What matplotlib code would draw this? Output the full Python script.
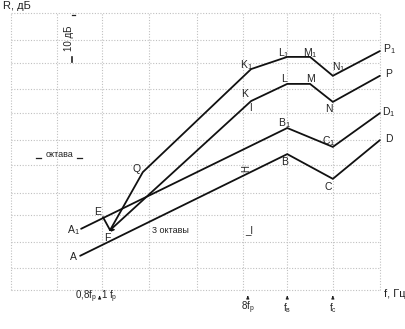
import matplotlib
matplotlib.use("Agg")
import matplotlib.pyplot as plt

plt.rcParams['font.family'] = ['Liberation Sans', 'DejaVu Sans']
plt.rcParams['mathtext.fontset'] = 'custom'
plt.rcParams['mathtext.rm'] = 'Liberation Sans'
plt.rcParams['mathtext.it'] = 'Liberation Sans'

# x: octaves relative to f_r ; y: dB
line_A_x = [-0.46, 3.90, 4.86, 5.85]
line_A_y = [7.6, 30.2, 24.7, 33.3]
line_A1_x = [-0.44, 3.90, 4.86, 5.85]
line_A1_y = [13.6, 36.0, 31.8, 39.3]
line_EF_x = [0.02, 0.17]
line_EF_y = [16.2, 13.3]
line_upper_x = [0.17, 0.86, 3.14, 3.90, 4.38, 4.86, 5.85]
line_upper_y = [13.3, 26.2, 49.1, 51.8, 51.8, 47.6, 53.1]
line_lower_x = [0.17, 3.14, 3.90, 4.38, 4.86, 5.85]
line_lower_y = [13.3, 42.0, 45.8, 45.8, 41.8, 47.6]

grid_x = [-1.92, -0.95, 0.0, 1.0, 2.0, 2.97, 3.90, 4.86, 5.85]
grid_y = [0, 4.9, 10.7, 16.7, 21.6, 27.8, 33.3, 39.3, 44.7, 50.4, 55.6, 61.6]

# point labels: (text, x, y)
labels = [
    ("A", -0.6, 7.3), ("A$_1$", -0.6, 13.3), ("E", -0.1, 17.3), ("F", 0.12, 11.5),
    ("Q", 0.72, 26.8), ("K$_1$", 3.05, 50.0), ("L$_1$", 3.82, 52.6), ("M$_1$", 4.38, 52.6),
    ("N$_1$", 4.98, 49.6), ("P$_1$", 6.04, 53.6), ("K", 3.0, 43.5), ("L", 3.84, 46.9),
    ("M", 4.38, 46.9), ("N", 4.78, 40.3), ("P", 6.04, 47.9), ("B$_1$", 3.85, 37.0),
    ("C$_1$", 4.78, 33.2), ("D$_1$", 6.04, 39.5), ("B", 3.84, 28.5), ("C", 4.76, 23.0),
    ("D", 6.04, 33.5),
]

tick_x = [-0.2, 0.0, 3.07, 3.90, 4.86]
tick_text = ["0,8f$_р$", "1 f$_р$", "8f$_р$", "f$_в$", "f$_с$"]

fig = plt.figure(figsize=(4.06, 3.29), dpi=100)
ax = fig.add_axes([0, 0, 1, 1])
ax.set_xlim((0 - 102) / 47.5, (406 - 102) / 47.5)
ax.set_ylim((290 - 329) / 4.5, (290 - 0) / 4.5)
ax.axis('off')

ymin, ymax = grid_y[0], grid_y[-1]
xmin, xmax = grid_x[0], grid_x[-1]
for gx in grid_x:
    ax.plot([gx, gx], [ymin, ymax], color='#c0c0c0', lw=0.8, ls=(0, (1, 1.5)), zorder=1)
for gy in grid_y:
    ax.plot([xmin, xmax], [gy, gy], color='#c0c0c0', lw=0.8, ls=(0, (1, 1.5)), zorder=1)

lk = dict(color='#111111', lw=1.3, zorder=3, solid_capstyle='round', solid_joinstyle='miter')
ax.plot(line_A_x, line_A_y, **lk)
ax.plot(line_A1_x, line_A1_y, **lk)
ax.plot(line_EF_x, line_EF_y, **lk)
ax.plot(line_upper_x, line_upper_y, **lk)
ax.plot(line_lower_x, line_lower_y, **lk)

# small arrow at F
ax.annotate("", xy=(line_EF_x[1] + 0.17, line_EF_y[1] + 0.1), xytext=(line_EF_x[1], line_EF_y[1] + 0.1),
            arrowprops=dict(arrowstyle='-|>', color='#111111', lw=0.8, mutation_scale=5), zorder=4)

for t, x, y in labels:
    ax.text(x, y, t, fontsize=7.5, ha='center', va='center', color='#222222')

# tick marks on H and I
ax.text(3.03, 27.0, "H", fontsize=7, rotation=90, ha='center', va='center', color='#222222')
ax.text(3.10, 13.2, "_I", fontsize=7, ha='center', va='center', color='#222222')
ax.text(3.12, 40.5, "I", fontsize=7, ha='center', va='center', color='#222222')
ax.text(1.45, 13.3, "3 октавы", fontsize=6.5, ha='center', va='center', color='#222222')

# "октава" marker
ax.text(-0.9, 30.1, "октава", fontsize=6.5, ha='center', va='center', color='#222222')
ax.plot([-1.38, -1.28], [29.4, 29.4], color='#222222', lw=0.9)
ax.plot([-0.52, -0.42], [29.4, 29.4], color='#222222', lw=0.9)

# 10 dB marker
ax.plot([(72 - 102) / 47.5, (75 - 102) / 47.5], [(290 - 15) / 4.5] * 2, color='#222222', lw=0.9)
ax.plot([(72 - 102) / 47.5] * 2, [(290 - 57) / 4.5, (290 - 62) / 4.5], color='#222222', lw=1.2)
ax.text((69 - 102) / 47.5, (290 - 38) / 4.5, "10 дБ", fontsize=7, rotation=90,
        ha='center', va='center', color='#222222')

# axis labels
ax.text((3 - 102) / 47.5, (290 - 6) / 4.5, "R, дБ", fontsize=8, ha='left', va='center', color='#222222')
ax.text((384 - 102) / 47.5, (290 - 294) / 4.5, "f, Гц", fontsize=8, ha='left', va='center', color='#222222')

# x tick labels
arrow_y_top = (290 - 293) / 4.5
arrow_y_bot = (290 - 300) / 4.5
ax.text(-0.34, (290 - 297) / 4.5, "0,8f$_р$", fontsize=7, ha='center', va='center', color='#222222')
ax.annotate("", xy=(-0.05, arrow_y_top), xytext=(-0.05, arrow_y_bot),
            arrowprops=dict(arrowstyle='-|>', color='#222222', lw=0.7, mutation_scale=4))
ax.text(0.15, (290 - 297) / 4.5, "1 f$_р$", fontsize=7, ha='center', va='center', color='#222222')
for x, t in zip(tick_x[2:], tick_text[2:]):
    ax.annotate("", xy=(x, arrow_y_top), xytext=(x, arrow_y_bot),
                arrowprops=dict(arrowstyle='-|>', color='#222222', lw=0.7, mutation_scale=4))
    ax.text(x, (290 - 308) / 4.5, t, fontsize=7, ha='center', va='center', color='#222222')

fig.savefig("out.png", dpi=100)
